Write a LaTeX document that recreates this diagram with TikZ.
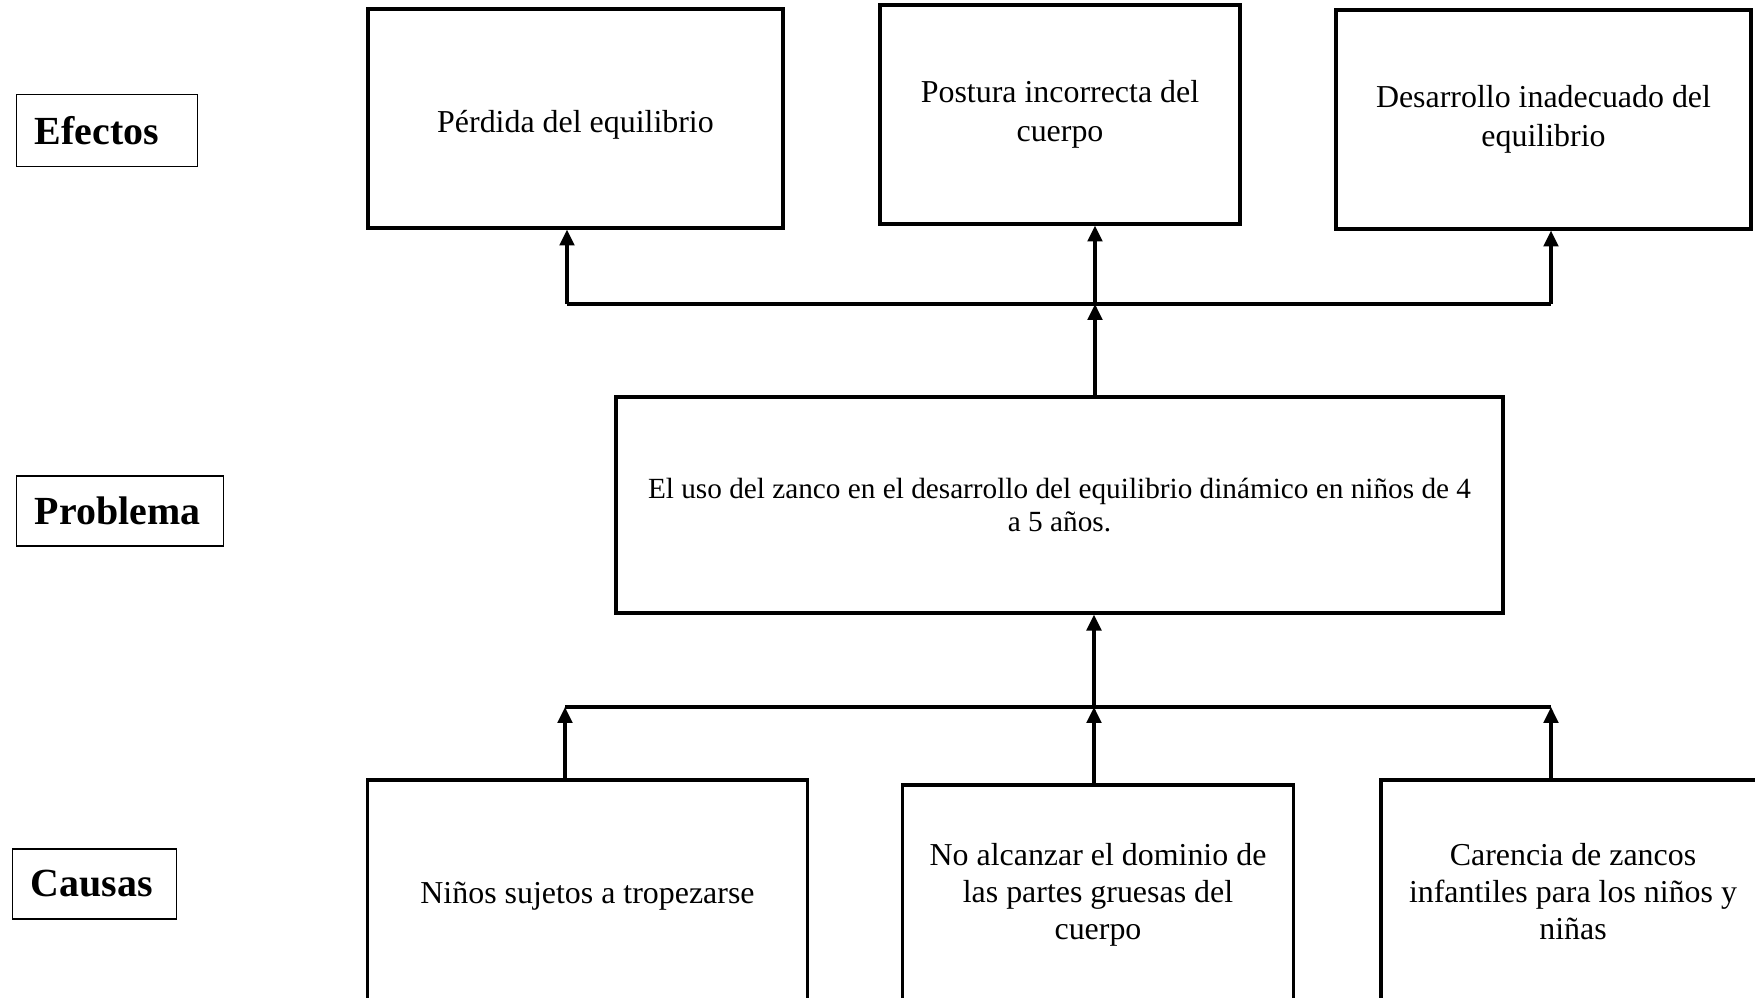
\documentclass[tikz,border=0pt]{standalone}
\usepackage{fontspec}
\setmainfont{Liberation Serif}
\usetikzlibrary{arrows.meta}

\begin{document}
\begin{tikzpicture}[x=0.376pt,y=-0.376pt]
      \useasboundingbox (0,0) rectangle (1755,998);
      \clip (0,0) rectangle (1755,998);
      % etiquetas de la izquierda
      \begin{scope}[every node/.style={draw,thin,anchor=west,align=left,inner xsep=7pt,font=\fontsize{15}{18}\selectfont\bfseries}]
        \node[text width=54pt,minimum height=27.4pt] (efectos) at (15.7,130.5) {Efectos};
        \node[text width=64pt,minimum height=26.3pt] (problema) at (15.7,511) {Problema};
        \node[text width=48pt,minimum height=26.3pt] (causas) at (11.5,884) {Causas};
      \end{scope}
      % cajas del arbol
      \begin{scope}[every node/.style={draw,line width=1.2pt,align=center,inner xsep=2pt,font=\fontsize{12}{13.9}\selectfont,
          execute at begin node={\rule{0pt}{11.2pt}}}]
        \node[minimum width=156pt,minimum height=82.3pt,execute at begin node={\rule{0pt}{12.8pt}}] (ef1) at (575.5,118.5) {P\'erdida del equilibrio};
        \node[minimum width=135.4pt,minimum height=82.3pt,font=\fontsize{12}{14.7}\selectfont,execute at begin node={\rule{0pt}{12.8pt}}] (ef2) at (1060,114.5) {Postura incorrecta del\\cuerpo};
        \node[minimum width=156pt,minimum height=82.3pt,font=\fontsize{12}{14.7}\selectfont,execute at begin node={\rule{0pt}{12.8pt}}] (ef3) at (1543.5,119.5) {Desarrollo inadecuado del\\equilibrio};
        \node[minimum width=333.5pt,minimum height=81.2pt,font=\fontsize{11}{12.6}\selectfont] (prob) at (1059.5,505) {El uso del zanco en el desarrollo del equilibrio din\'amico en ni\~nos de 4\\a 5 a\~nos.};
        \node[minimum width=165.4pt,minimum height=84.2pt] (ca1) at (587.5,892) {Ni\~nos sujetos a tropezarse};
        \node[minimum width=147pt,minimum height=82.3pt] (ca2) at (1098,894.5) {No alcanzar el dominio de\\las partes gruesas del\\cuerpo};
        \node[minimum width=144.4pt,minimum height=84.2pt] (ca3) at (1573,892) {Carencia de zancos\\infantiles para los ni\~nos y\\ni\~nas};
      \end{scope}
      \coordinate (jE1) at (567,304);
      \coordinate (jE2) at (1095,304);
      \coordinate (jE3) at (1551,304);
      \coordinate (jC1) at (565,707);
      \coordinate (jC2) at (1094,707);
      \coordinate (jC3) at (1551,707);
      \begin{scope}[every edge/.style={draw,line width=1.2pt,-{Triangle[width=5.5pt,length=6pt]}}]
        \draw[line width=1.2pt] (jE1) -- (jE3);
        \draw[line width=1.2pt] (jC1) -- (jC3);
        \path (jE1) edge (jE1 |- ef1.south);
        \path (jE2) edge (jE2 |- ef2.south);
        \path (jE3) edge (jE3 |- ef3.south);
        \path (jE2 |- prob.north) edge (jE2);
        \path (jC2) edge (jC2 |- prob.south);
        \path (jC1 |- ca1.north) edge (jC1);
        \path (jC2 |- ca2.north) edge (jC2);
        \path (jC3 |- ca3.north) edge (jC3);
      \end{scope}
    \end{tikzpicture}
\end{document}
